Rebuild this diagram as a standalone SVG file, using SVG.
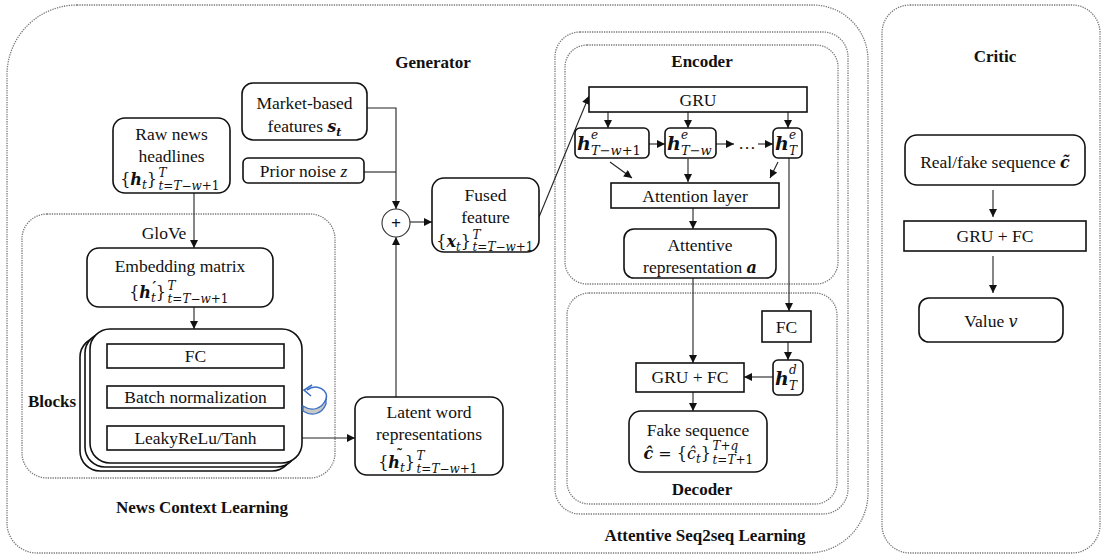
<svg xmlns="http://www.w3.org/2000/svg" width="1104" height="555" viewBox="0 0 1104 555">
<defs>
<marker id="ah" viewBox="0 0 10 10" refX="10" refY="5" markerWidth="9" markerHeight="8" markerUnits="userSpaceOnUse" orient="auto"><path d="M0,0 L10,5 L0,10 z" fill="#111"/></marker>
<style>
.cont{fill:none;stroke:#777;stroke-width:1.3;stroke-dasharray:1.3 1.1}
.box{fill:#fff;stroke:#111;stroke-width:1.6}
.t{font-family:"Liberation Serif","Times New Roman",serif;font-size:17.5px;fill:#111;text-anchor:middle}
.tb{font-family:"Liberation Serif","Times New Roman",serif;font-size:17px;font-weight:bold;fill:#111;text-anchor:middle}
.m{font-family:"DejaVu Serif",serif;font-style:italic;fill:#111}
.mb{font-family:"DejaVu Serif",serif;font-style:italic;font-weight:bold;fill:#111}
.mu{font-family:"DejaVu Serif",serif;fill:#111}
.n{font-style:normal}
.c line,.c polyline{fill:none;stroke:#222;stroke-width:1.1}
</style>
</defs>
<rect width="1104" height="555" fill="#fff"/>

<g id="containers">
<path class="cont" d="M77,5 H813 A55,55 0 0 1 868,60 V493 A60,60 0 0 1 808,553 H37 A30,30 0 0 1 7,523 V75 A70,70 0 0 1 77,5 Z"/>
<rect class="cont" x="22" y="214" width="313" height="264" rx="25"/>
<rect class="cont" x="555" y="32" width="293" height="482" rx="25"/>
<rect class="cont" x="565" y="45" width="273" height="239" rx="22"/>
<rect class="cont" x="567" y="293" width="270" height="211" rx="22"/>
<rect class="cont" x="882" y="5" width="218" height="548" rx="28"/>
<text class="tb" x="433" y="68" font-size="19">Generator</text>
<text class="tb" x="202" y="513">News Context Learning</text>
<text class="tb" x="702" y="67">Encoder</text>
<text class="tb" x="702" y="495">Decoder</text>
<text class="tb" x="705" y="541">Attentive Seq2seq Learning</text>
<text class="tb" x="995" y="62" font-size="19">Critic</text>
</g>

<g id="connectors" class="c">
<line x1="194" y1="193" x2="194" y2="248" marker-end="url(#ah)"/>
<line x1="194" y1="307" x2="194" y2="329" marker-end="url(#ah)"/>
<line x1="194" y1="368" x2="194" y2="386" marker-end="url(#ah)"/>
<line x1="194" y1="408" x2="194" y2="426" marker-end="url(#ah)"/>
<line x1="302" y1="438" x2="355" y2="438" marker-end="url(#ah)"/>
<line x1="396" y1="397" x2="396" y2="237" marker-end="url(#ah)"/>
<polyline points="367,108 396,108 396,209" marker-end="url(#ah)"/>
<polyline points="364,172 396,172"/>
<line x1="410" y1="222" x2="432" y2="222" marker-end="url(#ah)"/>
<line x1="539" y1="217" x2="589" y2="96" marker-end="url(#ah)"/>
<line x1="608" y1="112" x2="608" y2="128" marker-end="url(#ah)"/>
<line x1="688" y1="112" x2="688" y2="128" marker-end="url(#ah)"/>
<line x1="788" y1="112" x2="788" y2="128" marker-end="url(#ah)"/>
<line x1="649" y1="144" x2="665" y2="144" marker-end="url(#ah)"/>
<line x1="716" y1="144" x2="734" y2="144" marker-end="url(#ah)"/>
<line x1="758" y1="144" x2="773" y2="144" marker-end="url(#ah)"/>
<line x1="610" y1="162" x2="632" y2="178" marker-end="url(#ah)"/>
<line x1="688" y1="159" x2="688" y2="182" marker-end="url(#ah)"/>
<line x1="778" y1="162" x2="770" y2="178" marker-end="url(#ah)"/>
<line x1="693" y1="208" x2="693" y2="229" marker-end="url(#ah)"/>
<line x1="789" y1="158" x2="789" y2="311" marker-end="url(#ah)"/>
<line x1="788" y1="342" x2="788" y2="360" marker-end="url(#ah)"/>
<line x1="773" y1="377" x2="744" y2="377" marker-end="url(#ah)"/>
<line x1="693" y1="278" x2="693" y2="363" marker-end="url(#ah)"/>
<line x1="693" y1="392" x2="693" y2="411" marker-end="url(#ah)"/>
<line x1="993" y1="190" x2="993" y2="217" marker-end="url(#ah)"/>
<line x1="993" y1="256" x2="993" y2="293" marker-end="url(#ah)"/>
</g>

<g id="raw-news">
<rect class="box" x="113" y="118" width="117" height="75" rx="12"/>
<text class="t" x="171.5" y="140">Raw news</text>
<text class="t" x="171.5" y="162">headlines</text>
<text class="mu" font-size="16" x="157" y="185" text-anchor="end">{<tspan class="mb">h</tspan><tspan class="m" font-size="12" dy="4">t</tspan><tspan dy="-4">}</tspan></text>
<text class="m" font-size="12" x="158.5" y="177">T</text>
<text class="m" font-size="12" x="158.5" y="190">t<tspan class="n">=</tspan>T<tspan class="n">−</tspan>w<tspan class="n">+1</tspan></text>
</g>

<g id="glove-label"><text class="t" x="164" y="239">GloVe</text></g>

<g id="embedding">
<rect class="box" x="87" y="248" width="186" height="59" rx="12"/>
<text class="t" x="180" y="272">Embedding matrix</text>
<text class="mu" font-size="16" x="166" y="298" text-anchor="end">{<tspan class="mb">h</tspan><tspan class="m" font-size="12" dy="4">t</tspan><tspan dy="-4">}</tspan></text>
<text class="mb" font-size="14" x="152.5" y="292">′</text>
<text class="m" font-size="12" x="167.5" y="290">T</text>
<text class="m" font-size="12" x="167.5" y="303">t<tspan class="n">=</tspan>T<tspan class="n">−</tspan>w<tspan class="n">+1</tspan></text>
</g>

<g id="blocks">
<rect class="box" x="80" y="337" width="212" height="134" rx="20"/>
<rect class="box" x="85" y="333" width="212" height="134" rx="20"/>
<rect class="box" x="90" y="329" width="212" height="134" rx="20"/>
<rect class="box" x="107" y="344" width="177" height="24"/>
<text class="t" x="195.5" y="362">FC</text>
<rect class="box" x="107" y="386" width="177" height="22"/>
<text class="t" x="195.5" y="403">Batch normalization</text>
<rect class="box" x="107" y="426" width="177" height="24"/>
<text class="t" x="195.5" y="444">LeakyReLu/Tanh</text>
<text class="tb" x="52" y="407">Blocks</text>
<path d="M303,406 C312,412 322,409 326,399 L326,404 C322,414 312,417 303,411 Z" fill="#c8c8c8" stroke="#3a6fc4" stroke-width="1.3"/>
<path d="M307,390 C317,383 329,390 326,400" fill="none" stroke="#3a6fc4" stroke-width="1.6"/>
<polyline points="312,385 304,390 311,396" fill="none" stroke="#3a6fc4" stroke-width="1.6"/>
</g>

<g id="latent">
<rect class="box" x="355" y="397" width="148" height="78" rx="12"/>
<text class="t" x="429" y="418">Latent word</text>
<text class="t" x="429" y="440">representations</text>
<text class="mu" font-size="16" x="415" y="468" text-anchor="end">{<tspan class="mb">h</tspan><tspan class="m" font-size="12" dy="4">t</tspan><tspan dy="-4">}</tspan></text>
<text class="mb" font-size="13" x="398.5" y="459" text-anchor="middle">˜</text>
<text class="m" font-size="12" x="416.5" y="460">T</text>
<text class="m" font-size="12" x="416.5" y="473">t<tspan class="n">=</tspan>T<tspan class="n">−</tspan>w<tspan class="n">+1</tspan></text>
</g>

<g id="market">
<rect class="box" x="242" y="83" width="125" height="57" rx="11"/>
<text class="t" x="304.5" y="109">Market-based</text>
<text class="t" x="304.5" y="132">features <tspan class="mb" font-size="16">s</tspan><tspan class="mb" font-size="11" dy="4">t</tspan></text>
</g>

<g id="prior-noise">
<rect class="box" x="243" y="158" width="121" height="25" rx="5"/>
<text class="t" x="303.5" y="176.5">Prior noise <tspan font-style="italic">z</tspan></text>
</g>

<g id="plus">
<circle cx="396" cy="223" r="14" fill="#fff" stroke="#333" stroke-width="1.1"/>
<text class="t" x="396" y="229" font-weight="bold" font-size="17">+</text>
</g>

<g id="fused">
<rect class="box" x="432" y="178" width="107" height="74" rx="12"/>
<text class="t" x="485.5" y="201">Fused</text>
<text class="t" x="485.5" y="223">feature</text>
<text class="mu" font-size="16" x="471" y="247" text-anchor="end">{<tspan class="mb">x</tspan><tspan class="m" font-size="12" dy="4">t</tspan><tspan dy="-4">}</tspan></text>
<text class="m" font-size="12" x="472.5" y="239">T</text>
<text class="m" font-size="12" x="472.5" y="251">t<tspan class="n">=</tspan>T<tspan class="n">−</tspan>w<tspan class="n">+1</tspan></text>
</g>

<g id="gru-enc">
<rect class="box" x="589" y="87" width="218" height="25"/>
<text class="t" x="698" y="106">GRU</text>
</g>

<g id="h-e-1">
<rect class="box" x="575" y="128" width="74" height="30" rx="5"/>
<text class="mb" font-size="19" x="577" y="150">h</text>
<text class="m" font-size="12" x="591" y="139">e</text>
<text class="m" font-size="13" x="591" y="155">T<tspan class="n">−</tspan>w<tspan class="n">+1</tspan></text>
</g>
<g id="h-e-2">
<rect class="box" x="665" y="128" width="51" height="30" rx="5"/>
<text class="mb" font-size="19" x="667" y="150">h</text>
<text class="m" font-size="12" x="681" y="139">e</text>
<text class="m" font-size="13" x="681" y="155">T<tspan class="n">−</tspan>w</text>
</g>
<g id="dots"><text class="t" x="747" y="149">…</text></g>
<g id="h-e-T">
<rect class="box" x="773" y="128" width="29" height="30" rx="5"/>
<text class="mb" font-size="19" x="775" y="150">h</text>
<text class="m" font-size="12" x="789" y="139">e</text>
<text class="m" font-size="12" x="789" y="155">T</text>
</g>

<g id="attention">
<rect class="box" x="611" y="183" width="168" height="25"/>
<text class="t" x="695" y="202">Attention layer</text>
</g>

<g id="attentive-rep">
<rect class="box" x="624" y="229" width="152" height="49" rx="10"/>
<text class="t" x="700" y="251">Attentive</text>
<text class="t" x="700" y="273">representation <tspan class="mb" font-size="16">a</tspan></text>
</g>

<g id="fc-dec">
<rect class="box" x="762" y="311" width="49" height="31"/>
<text class="t" x="786.5" y="333">FC</text>
</g>

<g id="h-d-T">
<rect class="box" x="773" y="360" width="30" height="35" rx="5"/>
<text class="mb" font-size="19" x="775" y="385">h</text>
<text class="m" font-size="12" x="789" y="374">d</text>
<text class="m" font-size="12" x="789" y="390">T</text>
</g>

<g id="gru-fc-dec">
<rect class="box" x="636" y="363" width="108" height="29"/>
<text class="t" x="690" y="383">GRU + FC</text>
</g>

<g id="fake-seq">
<rect class="box" x="629" y="411" width="138" height="61" rx="12"/>
<text class="t" x="698" y="436">Fake sequence</text>
<text class="mu" font-size="16" x="711" y="459" text-anchor="end"><tspan class="mb">ĉ</tspan> = {<tspan class="m">ĉ</tspan><tspan class="m" font-size="12" dy="4">t</tspan><tspan dy="-4">}</tspan></text>
<text class="m" font-size="12" x="712.5" y="450">T<tspan class="n">+</tspan>q</text>
<text class="m" font-size="12" x="712.5" y="464">t<tspan class="n">=</tspan>T<tspan class="n">+1</tspan></text>
</g>

<g id="real-fake">
<rect class="box" x="905" y="135" width="180" height="50" rx="12"/>
<text class="t" x="995" y="168">Real/fake sequence <tspan class="mb" font-size="16">c̃</tspan></text>
</g>
<g id="gru-fc-critic">
<rect class="box" x="904" y="221" width="182" height="30"/>
<text class="t" x="995" y="242">GRU + FC</text>
</g>
<g id="value">
<rect class="box" x="919" y="298" width="144" height="44" rx="10"/>
<text class="t" x="991" y="327">Value <tspan class="m" font-size="16">v</tspan></text>
</g>
</svg>
